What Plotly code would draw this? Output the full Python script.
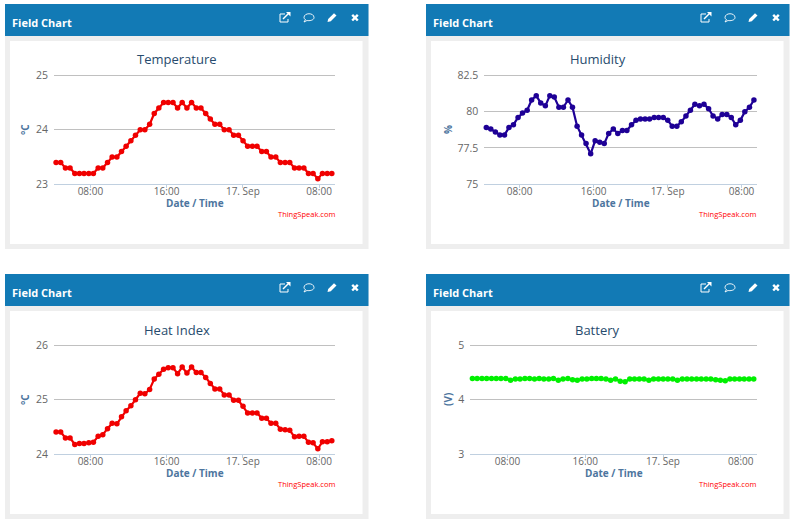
import plotly.graph_objects as go

W, H = 800, 521

# sample times, all four charts share them
times = [
    "2016-09-16 04:24", "2016-09-16 04:53", "2016-09-16 05:23", "2016-09-16 05:52", "2016-09-16 06:22",
    "2016-09-16 06:51", "2016-09-16 07:20", "2016-09-16 07:50", "2016-09-16 08:19", "2016-09-16 08:49",
    "2016-09-16 09:18", "2016-09-16 09:48", "2016-09-16 10:17", "2016-09-16 10:47", "2016-09-16 11:16",
    "2016-09-16 11:45", "2016-09-16 12:15", "2016-09-16 12:44", "2016-09-16 13:14", "2016-09-16 13:43",
    "2016-09-16 14:13", "2016-09-16 14:42", "2016-09-16 15:11", "2016-09-16 15:41", "2016-09-16 16:10",
    "2016-09-16 16:40", "2016-09-16 17:09", "2016-09-16 17:38", "2016-09-16 18:08", "2016-09-16 18:37",
    "2016-09-16 19:07", "2016-09-16 19:36", "2016-09-16 20:06", "2016-09-16 20:35", "2016-09-16 21:04",
    "2016-09-16 21:34", "2016-09-16 22:03", "2016-09-16 22:33", "2016-09-16 23:02", "2016-09-16 23:32",
    "2016-09-17 00:01", "2016-09-17 00:30", "2016-09-17 01:00", "2016-09-17 01:29", "2016-09-17 01:59",
    "2016-09-17 02:28", "2016-09-17 02:57", "2016-09-17 03:27", "2016-09-17 03:56", "2016-09-17 04:26",
    "2016-09-17 04:55", "2016-09-17 05:25", "2016-09-17 05:54", "2016-09-17 06:24", "2016-09-17 06:53",
    "2016-09-17 07:22", "2016-09-17 07:52", "2016-09-17 08:21", "2016-09-17 08:51", "2016-09-17 09:20",
]

temperature = [
    23.4, 23.4, 23.3, 23.3, 23.2, 23.2, 23.2, 23.2, 23.2, 23.3,
    23.3, 23.4, 23.5, 23.5, 23.6, 23.7, 23.8, 23.9, 24.0, 24.0,
    24.1, 24.3, 24.4, 24.5, 24.5, 24.5, 24.4, 24.5, 24.4, 24.5,
    24.4, 24.4, 24.3, 24.2, 24.1, 24.1, 24.0, 24.0, 23.9, 23.9,
    23.8, 23.7, 23.7, 23.7, 23.6, 23.6, 23.5, 23.5, 23.4, 23.4,
    23.4, 23.3, 23.3, 23.3, 23.2, 23.2, 23.1, 23.2, 23.2, 23.2,
]
humidity = [
    78.9, 78.8, 78.6, 78.4, 78.4, 78.9, 79.1, 79.6, 79.9, 80.1,
    80.8, 81.1, 80.6, 80.4, 81.1, 81.0, 80.3, 80.3, 80.8, 80.3,
    79.0, 78.4, 77.8, 77.1, 78.0, 77.9, 77.8, 78.5, 78.8, 78.5,
    78.7, 78.7, 79.1, 79.4, 79.5, 79.5, 79.5, 79.6, 79.6, 79.6,
    79.4, 79.0, 79.0, 79.3, 79.7, 80.1, 80.5, 80.4, 80.5, 80.2,
    79.7, 79.5, 79.8, 79.8, 79.6, 79.1, 79.4, 80.0, 80.3, 80.8,
]
heat_index = [
    24.41, 24.41, 24.30, 24.30, 24.18, 24.20, 24.20, 24.21, 24.22, 24.33,
    24.36, 24.47, 24.57, 24.56, 24.69, 24.80, 24.89, 25.00, 25.12, 25.11,
    25.19, 25.38, 25.47, 25.56, 25.59, 25.59, 25.48, 25.60, 25.49, 25.60,
    25.50, 25.50, 25.41, 25.30, 25.20, 25.20, 25.09, 25.09, 24.99, 24.99,
    24.88, 24.76, 24.76, 24.76, 24.66, 24.66, 24.57, 24.57, 24.46, 24.45,
    24.44, 24.32, 24.33, 24.33, 24.22, 24.21, 24.10, 24.23, 24.23, 24.25,
]
battery = [
    4.39, 4.39, 4.39, 4.39, 4.39, 4.39, 4.39, 4.39, 4.36, 4.38,
    4.38, 4.39, 4.39, 4.38, 4.39, 4.38, 4.38, 4.39, 4.36, 4.38,
    4.39, 4.37, 4.36, 4.38, 4.38, 4.39, 4.39, 4.39, 4.38, 4.36,
    4.38, 4.34, 4.33, 4.38, 4.38, 4.38, 4.38, 4.36, 4.38, 4.38,
    4.38, 4.38, 4.38, 4.36, 4.38, 4.38, 4.38, 4.38, 4.38, 4.38,
    4.38, 4.37, 4.36, 4.35, 4.38, 4.38, 4.38, 4.38, 4.38, 4.38,
]

x_range = ["2016-09-16 04:11", "2016-09-17 09:40"]
x_ticks = ["2016-09-16 08:00", "2016-09-16 16:00", "2016-09-17 00:00", "2016-09-17 08:00"]
x_labels = ["08:00", "16:00", "17. Sep", "08:00"]

# title, y title, values, color, y ticks, y tick labels, plot box in pixels (x0, x1, y0, y1), panel offset
charts = [
    ("Temperature", "°C", temperature, "#f00000", [23, 24, 25], ["23", "24", "25"], (54, 335, 75.3, 184.3), (0, 0), 25),
    ("Humidity", "%", humidity, "#1e0096", [75, 77.5, 80, 82.5], ["75", "77.5", "80", "82.5"], (484.3, 757, 75.3, 184.3), (421, 0), 448),
    ("Heat Index", "°C", heat_index, "#f00000", [24, 25, 26], ["24", "25", "26"], (54, 335, 345.3, 454.3), (0, 270), 25),
    ("Battery", "(V)", battery, "#00f000", [3, 4, 5], ["3", "4", "5"], (470.3, 757, 345.3, 454.3), (421, 270), 448),
]

FONT = "Open Sans"
TOP_PAD = 3  # plotly drops a gridline sitting on the plot edge, so leave a few px above the top one


def px(x):
    return x / W


def py(y):
    return 1 - y / H


def pt(x, y):
    return f"{px(x):.5f} {py(y):.5f}"


def rect(x0, y0, x1, y1, color):
    return dict(type="rect", xref="paper", yref="paper", layer="below", line_width=0, fillcolor=color,
                x0=px(x0), x1=px(x1), y0=py(y1), y1=py(y0))


def path(d, fill=None, width=0):
    return dict(type="path", xref="paper", yref="paper", path=d, fillcolor=fill or "rgba(0,0,0,0)",
                line=dict(color="white", width=width))


def icons(dx, dy):
    # popout, comment, pencil and close buttons in the header
    out = []
    x, y = 280 + dx, 13 + dy
    out.append(path(f"M {pt(x + 5, y + 1)} L {pt(x, y + 1)} L {pt(x, y + 9)} L {pt(x + 8, y + 9)} L {pt(x + 8, y + 6)}", width=1))
    out.append(path(f"M {pt(x + 3, y + 6)} L {pt(x + 9, y)}", width=1.5))
    out.append(path(f"M {pt(x + 6, y - 1)} L {pt(x + 10.5, y - 1)} L {pt(x + 10.5, y + 3.5)} Z", fill="white"))
    cx, cy = 309 + dx, 17.5 + dy
    out.append(path(f"M {pt(cx - 5, cy)} C {pt(cx - 5, cy - 5)} {pt(cx + 5, cy - 5)} {pt(cx + 5, cy)} "
                    f"C {pt(cx + 5, cy + 3)} {pt(cx, cy + 3.5)} {pt(cx - 2, cy + 3)} L {pt(cx - 5, cy + 4.5)} "
                    f"L {pt(cx - 3.5, cy + 2)} C {pt(cx - 4.5, cy + 1.5)} {pt(cx - 5, cy + 1)} {pt(cx - 5, cy)} Z", width=0.9))
    cx, cy = 332 + dx, 17.5 + dy
    out.append(path(f"M {pt(cx - 4.5, cy + 4.5)} L {pt(cx - 3.8, cy + 1.5)} L {pt(cx + 2, cy - 4.2)} "
                    f"L {pt(cx + 4.5, cy - 2)} L {pt(cx - 1.2, cy + 3.8)} Z", fill="white"))
    cx, cy = 355 + dx, 17.7 + dy
    out.append(path(f"M {pt(cx - 2.8, cy - 2.8)} L {pt(cx + 2.8, cy + 2.8)} M {pt(cx + 2.8, cy - 2.8)} L {pt(cx - 2.8, cy + 2.8)}", width=2.4))
    return out


def text(x, y, s, size, color, anchor="center", weight="normal", angle=0):
    return dict(xref="paper", yref="paper", x=px(x), y=py(y), text=s, showarrow=False, xanchor=anchor, yanchor="middle",
                textangle=angle, font=dict(family=FONT, size=size, color=color, weight=weight))


def main():
    fig = go.Figure()
    shapes = []
    notes = []
    layout_axes = {}

    for i, (title, ytitle, values, color, yticks, ylabels, box, offset, ytitle_x) in enumerate(charts):
        x0, x1, y0, y1 = box
        dx, dy = offset
        n = i + 1
        per_px = (yticks[-1] - yticks[0]) / (y1 - y0)
        fig.add_trace(go.Scatter(x=times, y=values, xaxis=f"x{n}", yaxis=f"y{n}", mode="lines+markers",
                                 line=dict(color=color, width=2.2), marker=dict(color=color, size=5.5),
                                 showlegend=False, cliponaxis=False))
        layout_axes[f"xaxis{n}"] = dict(
            domain=[px(x0), px(x1)], anchor=f"y{n}", type="date", range=x_range, tickmode="array",
            tickvals=x_ticks, ticktext=x_labels, ticks="outside", ticklen=3, tickcolor="#c0d0e0",
            showgrid=False, showline=True, linecolor="#c0d0e0", linewidth=1, zeroline=False, ticklabelstandoff=-5,
            automargin=False, tickfont=dict(family=FONT, size=10, color="#666666"))
        layout_axes[f"yaxis{n}"] = dict(
            domain=[py(y1), py(y0 - TOP_PAD)], anchor=f"x{n}", range=[yticks[0], yticks[-1] + TOP_PAD * per_px],
            tickmode="array", tickvals=yticks, ticktext=ylabels, showgrid=True, gridcolor="#c0c0c0", gridwidth=1,
            zeroline=False, showline=False, ticks="", ticklabelstandoff=5, automargin=False,
            tickfont=dict(family=FONT, size=10.5, color="#666666"))

        # panel chrome
        shapes.append(rect(5 + dx, 4 + dy, 368.5 + dx, 249 + dy, "#eeeeee"))
        shapes.append(rect(5 + dx, 4 + dy, 368.5 + dx, 36 + dy, "#127ab5"))
        shapes.append(rect(10 + dx, 41 + dy, 362.5 + dx, 244 + dy, "#ffffff"))
        shapes += icons(dx, dy)

        notes.append(text(10 + dx, 22.5 + dy, "Field Chart", 11, "white", anchor="left", weight="bold"))
        notes.append(text(176.5 + dx, 59.5 + dy, title, 13, "#274b6d"))
        notes.append(text((x0 + x1) / 2, 203 + dy, "Date / Time", 10, "#4d759e", weight="bold"))
        notes.append(text(ytitle_x, 130 + dy, ytitle, 10, "#4d759e", weight="bold", angle=-90))
        notes.append(text(337 + dx, 214 + dy, "ThingSpeak.com", 7.5, "#ff0000", anchor="right"))

    fig.update_layout(width=W, height=H, margin=dict(l=0, r=0, t=0, b=0), paper_bgcolor="white", plot_bgcolor="rgba(0,0,0,0)",
                      shapes=shapes, annotations=notes, showlegend=False, **layout_axes)
    # the page has a default body margin that would shift everything
    fig.write_html("out.html", config={"displayModeBar": False}, post_script="document.body.style.margin = '0';")


if __name__ == '__main__':
    main()
